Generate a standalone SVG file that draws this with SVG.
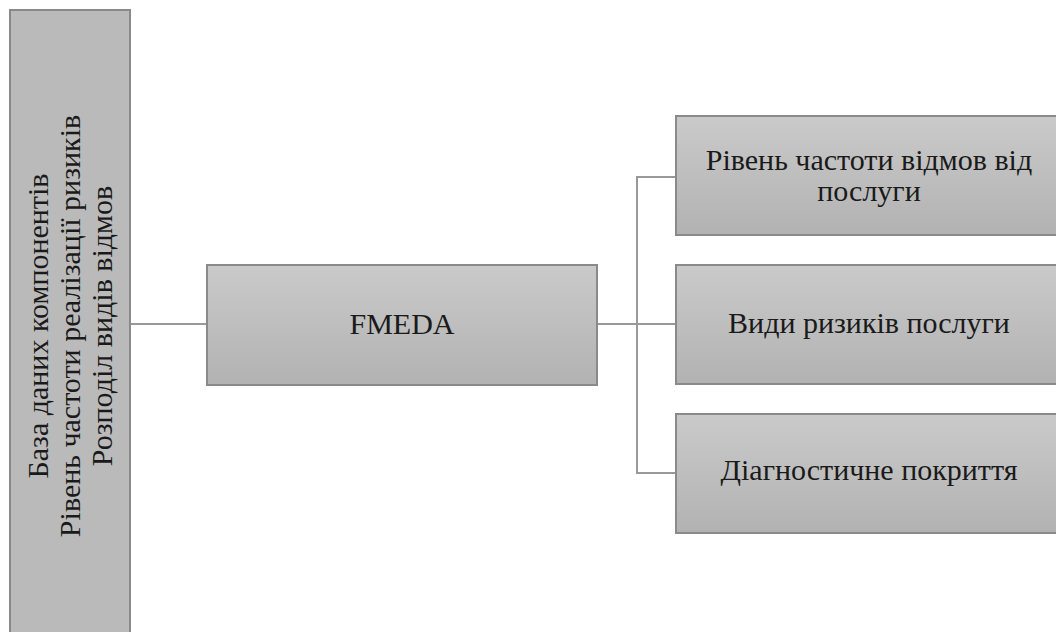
<svg xmlns="http://www.w3.org/2000/svg" width="1056" height="632" viewBox="0 0 1056 632">
<defs>
<linearGradient id="g" x1="0" y1="0" x2="0" y2="1">
<stop offset="0" stop-color="#cacaca"/>
<stop offset="1" stop-color="#b2b2b2"/>
</linearGradient>
<style>
.box{fill:url(#g);stroke:#8a8a8a;stroke-width:2}
.lbox{fill:#bababa;stroke:#8a8a8a;stroke-width:2}
.t{font-family:"Liberation Serif","Times New Roman",serif;font-size:30px;fill:#1a1a1a;text-anchor:middle}
.c{fill:none;stroke:#999999;stroke-width:2}
</style>
</defs>
<rect width="1056" height="632" fill="#ffffff"/>
<g id="connectors">
<path class="c" d="M130 324 H207"/>
<path class="c" d="M597 324 H676"/>
<path class="c" d="M676 177 H637 V473 H676"/>
</g>
<g id="left">
<rect class="lbox" x="10" y="10" width="120" height="640"/>
<text class="t" transform="translate(48,326) rotate(-90)">База даних компонентів</text>
<text class="t" transform="translate(80,326) rotate(-90)">Рівень частоти реалізації ризиків</text>
<text class="t" transform="translate(112,326) rotate(-90)">Розподіл видів відмов</text>
</g>
<g id="fmeda">
<rect class="box" x="207" y="265" width="390" height="120"/>
<text class="t" x="402" y="334">FMEDA</text>
</g>
<g id="n1">
<rect class="box" x="676" y="116" width="390" height="119"/>
<text class="t" x="869" y="170">Рівень частоти відмов від</text>
<text class="t" x="869" y="201">послуги</text>
</g>
<g id="n2">
<rect class="box" x="676" y="265" width="390" height="119"/>
<text class="t" x="869" y="333">Види ризиків послуги</text>
</g>
<g id="n3">
<rect class="box" x="676" y="414" width="390" height="119"/>
<text class="t" x="869" y="480">Діагностичне покриття</text>
</g>
</svg>
